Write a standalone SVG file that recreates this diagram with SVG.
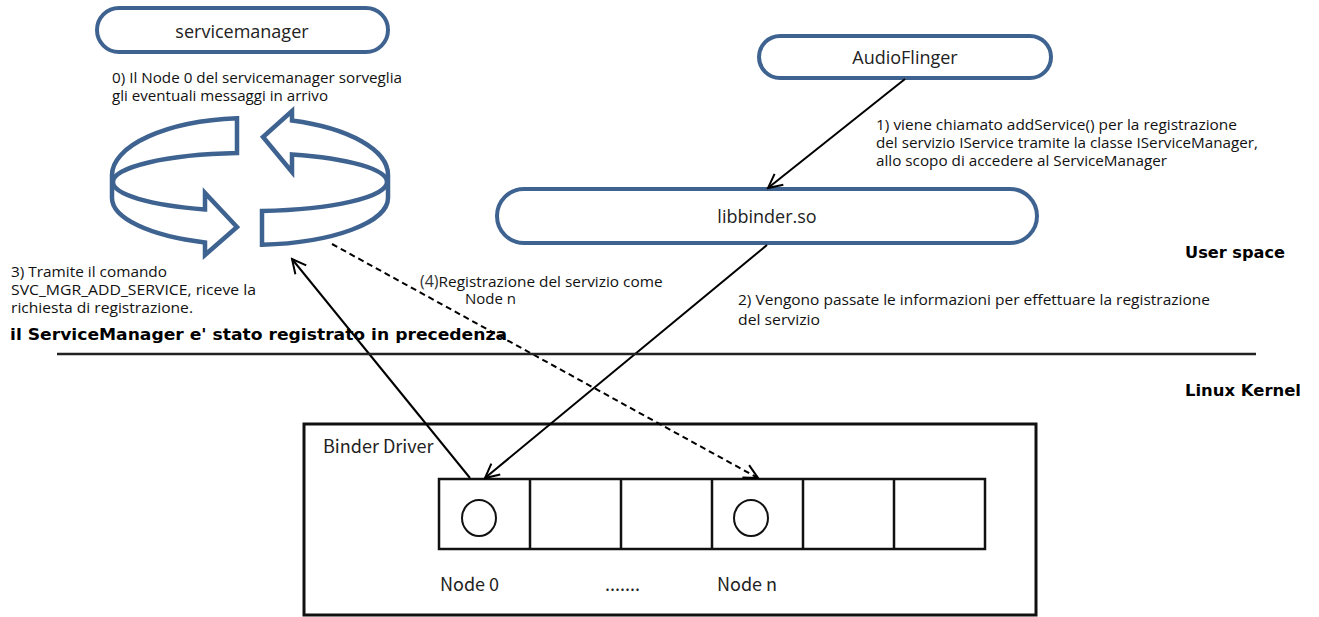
<svg xmlns="http://www.w3.org/2000/svg" width="1319" height="617" viewBox="0 0 1319 617">
<defs>
<style>
.box{fill:#fff;stroke:#3f6390;stroke-width:4}
.ring{fill:#fff;stroke:#3f6390;stroke-width:4.5;stroke-linejoin:miter}
.lbl{font-family:"Open Sans","Noto Sans",sans-serif;font-size:18px;fill:#222}
.note{font-family:"Open Sans","Noto Sans",sans-serif;font-size:14px;fill:#111}
.bold{font-family:"DejaVu Sans",sans-serif;font-weight:bold;font-size:15px;fill:#000}
.kr{font-family:"Noto Sans CJK KR","Open Sans",sans-serif;font-size:18px;fill:#222}
.conn{fill:none;stroke:#000;stroke-width:2}
.cell{fill:none;stroke:#111;stroke-width:2.5}
</style>
<marker id="arr" viewBox="0 0 18 18" refX="16" refY="9" markerWidth="18" markerHeight="18" markerUnits="userSpaceOnUse" orient="auto">
<path d="M2,2 L16,9 L2,16" fill="none" stroke="#000" stroke-width="2"/>
</marker>
</defs>
<rect width="1319" height="617" fill="#fff"/>

<g id="servicemanager">
<rect class="box" x="97" y="8" width="291" height="44" rx="22"/>
<text class="lbl" x="242" y="38" text-anchor="middle">servicemanager</text>
</g>

<g id="loop">
<path class="ring" d="M237,118.3 A138,57 0 0 0 112,175 L112,198 A138,47 0 0 0 205,242.4 L205,255 L237,227 L205,193 L205,209.4 A137,29 0 0 1 113,182 A137,29 0 0 1 237,153.1 Z"/>
<path class="ring" d="M292,120.6 L292,111 L263,137 L292,172 L292,154.4 A137,29 0 0 1 387,182 A137,29 0 0 1 262,210.9 L262,244.8 A138,47 0 0 0 388,198 L388,175 A138,57 0 0 0 292,120.6 Z"/>
</g>

<g id="audioflinger">
<rect class="box" x="759" y="36" width="292" height="42" rx="21"/>
<text class="lbl" x="905" y="64" text-anchor="middle">AudioFlinger</text>
</g>

<g id="libbinder">
<rect class="box" x="497" y="189" width="540" height="54" rx="27"/>
<text class="lbl" x="767" y="223" text-anchor="middle">libbinder.so</text>
</g>

<g id="binder-driver">
<rect x="304" y="424" width="732" height="191" fill="none" stroke="#111" stroke-width="3"/>
<text class="kr" x="323" y="453">Binder Driver</text>
<rect class="cell" x="439" y="479" width="546" height="70"/>
<path class="cell" d="M530,479V549M621,479V549M712,479V549M803,479V549M894,479V549"/>
<ellipse cx="479" cy="518" rx="17" ry="18" fill="none" stroke="#111" stroke-width="2"/>
<ellipse cx="751" cy="518" rx="17" ry="18" fill="none" stroke="#111" stroke-width="2"/>
<text class="kr" x="440" y="591">Node 0</text>
<text class="kr" x="605" y="591">.......</text>
<text class="kr" x="717" y="591">Node n</text>
</g>

<g id="connectors">
<line class="conn" x1="905" y1="79" x2="768" y2="188" marker-end="url(#arr)"/>
<line class="conn" x1="767" y1="245" x2="485" y2="478" marker-end="url(#arr)"/>
<line class="conn" x1="470" y1="478" x2="292" y2="259" marker-end="url(#arr)"/>
<line class="conn" x1="332" y1="244" x2="758" y2="478" stroke-dasharray="6 4" marker-end="url(#arr)"/>
</g>

<line x1="57" y1="354" x2="1256" y2="354" stroke="#222" stroke-width="2.5"/>

<g id="notes">
<text class="note" x="112" y="83" textLength="290" lengthAdjust="spacingAndGlyphs">0) Il Node 0 del servicemanager sorveglia</text>
<text class="note" x="112" y="101" textLength="216" lengthAdjust="spacingAndGlyphs">gli eventuali messaggi in arrivo</text>
<text class="note" x="876" y="130" textLength="361" lengthAdjust="spacingAndGlyphs">1) viene chiamato addService() per la registrazione</text>
<text class="note" x="876" y="148" textLength="382" lengthAdjust="spacingAndGlyphs">del servizio IService tramite la classe IServiceManager,</text>
<text class="note" x="876" y="166" textLength="291" lengthAdjust="spacingAndGlyphs">allo scopo di accedere al ServiceManager</text>
<text class="note" x="738" y="305" textLength="472" lengthAdjust="spacingAndGlyphs">2) Vengono passate le informazioni per effettuare la registrazione</text>
<text class="note" x="738" y="325" textLength="82" lengthAdjust="spacingAndGlyphs">del servizio</text>
<text class="note" x="11" y="277" textLength="156" lengthAdjust="spacingAndGlyphs">3) Tramite il comando</text>
<text class="note" x="11" y="295" textLength="245" lengthAdjust="spacingAndGlyphs">SVC_MGR_ADD_SERVICE, riceve la</text>
<text class="note" x="11" y="313" textLength="182" lengthAdjust="spacingAndGlyphs">richiesta di registrazione.</text>
<text class="note" x="420" y="287"><tspan font-size="16" fill="#333">(4)</tspan><tspan textLength="224" lengthAdjust="spacingAndGlyphs">Registrazione del servizio come</tspan></text>
<text class="note" x="465" y="304" textLength="51" lengthAdjust="spacingAndGlyphs">Node n</text>
<text class="bold" x="10" y="340" textLength="497" lengthAdjust="spacingAndGlyphs">il ServiceManager e' stato registrato in precedenza</text>
<text class="bold" x="1185" y="258" textLength="100" lengthAdjust="spacingAndGlyphs">User space</text>
<text class="bold" x="1185" y="396" textLength="116" lengthAdjust="spacingAndGlyphs">Linux Kernel</text>
</g>
</svg>
